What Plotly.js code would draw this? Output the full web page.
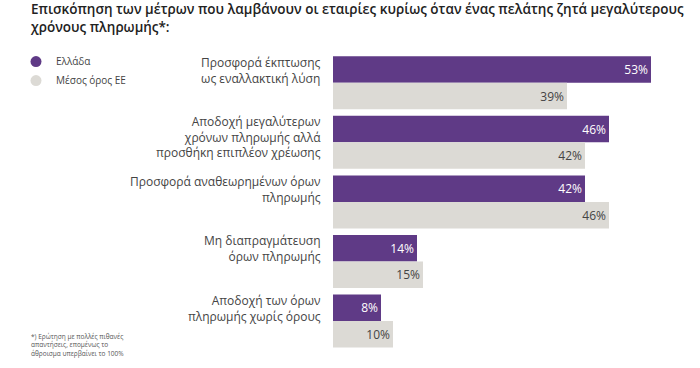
<!DOCTYPE html>
<html>
<head>
<meta charset="utf-8">
<script src="https://cdn.plot.ly/plotly-3.0.1.min.js"></script>
<style>html,body{margin:0;padding:0;background:#fff}#chart{width:700px;height:368px}</style>
</head>
<body>
<div id="chart"></div>
<script>
const categories = [
  "Προσφορά έκπτωσης<br>ως εναλλακτική λύση",
  "Αποδοχή μεγαλύτερων<br>χρόνων πληρωμής αλλά<br>προσθήκη επιπλέον χρέωσης",
  "Προσφορά αναθεωρημένων όρων<br>πληρωμής",
  "Μη διαπραγμάτευση<br>όρων πληρωμής",
  "Αποδοχή των όρων<br>πληρωμής χωρίς όρους"
];
const seriesNames = ["Ελλάδα", "Μέσος όρος ΕΕ"];
const greece = [53, 46, 42, 14, 8];
const euAverage = [39, 42, 46, 15, 10];
const titleText = "Επισκόπηση των μέτρων που λαμβάνουν οι εταιρίες κυρίως όταν ένας πελάτης ζητά μεγαλύτερους<br>χρόνους πληρωμής*:";
const footnote = "*) Ερώτηση με πολλές πιθανές<br>απαντήσεις, επομένως το<br>άθροισμα υπερβαίνει το 100%";

const PURPLE = "#5f3a86";
const GREY = "#dcdad5";
const FONT = "Open Sans, Lato, sans-serif";

const catIdx = categories.map((c, i) => i);

const traces = [
  {
    type: "bar", orientation: "h", name: seriesNames[0],
    y: catIdx, x: greece,
    marker: {color: PURPLE},
    text: greece.map(v => v + "%"),
    textposition: "inside", insidetextanchor: "end",
    textfont: {color: "#ffffff", size: 12, family: FONT},
    showlegend: false, hoverinfo: "skip"
  },
  {
    type: "bar", orientation: "h", name: seriesNames[1],
    y: catIdx, x: euAverage,
    marker: {color: GREY},
    text: euAverage.map(v => v + "%"),
    textposition: "inside", insidetextanchor: "end",
    textfont: {color: "#444444", size: 12, family: FONT},
    showlegend: false, hoverinfo: "skip"
  },
  {
    type: "scatter", mode: "markers", name: seriesNames[0],
    x: [null], y: [null], marker: {color: PURPLE, size: 11, symbol: "circle"}
  },
  {
    type: "scatter", mode: "markers", name: seriesNames[1],
    x: [null], y: [null], marker: {color: GREY, size: 11, symbol: "circle"}
  }
];

const annotations = categories.map((c, i) => ({
  text: c, x: 0, xref: "x", xanchor: "right", xshift: -10,
  y: i, yref: "y", yanchor: "top", yshift: 31,
  showarrow: false, align: "right",
  font: {family: FONT, size: 12, color: "#444444"}
}));
annotations.push({
  text: footnote, xref: "paper", x: (29 - 333) / 360, xanchor: "left",
  yref: "paper", y: (352.3 - 330) / 300, yanchor: "top",
  showarrow: false, align: "left",
  font: {family: FONT, size: 6.5, color: "#555555"}
});

const layout = {
  width: 700, height: 368,
  margin: {l: 333, r: 7, t: 52.5, b: 15.7},
  paper_bgcolor: "#ffffff", plot_bgcolor: "#ffffff",
  font: {family: FONT, color: "#333"},
  title: {
    text: titleText, xref: "container", x: 31 / 700, xanchor: "left",
    yref: "container", y: 1 - 14 / 368, yanchor: "top",
    font: {family: FONT, size: 13.5, weight: 600, color: "#222222"}
  },
  barmode: "group", bargap: 0.11, bargroupgap: 0,
  xaxis: {range: [0, 60], visible: false, fixedrange: true},
  yaxis: {autorange: "reversed", showticklabels: false, showgrid: false, zeroline: false, showline: false, ticks: ""},
  showlegend: true,
  legend: {
    x: (16 - 333) / 360, xanchor: "left", y: 1.02, yanchor: "top",
    font: {family: FONT, size: 10, color: "#444444"},
    itemwidth: 30, tracegroupgap: 0, bgcolor: "rgba(0,0,0,0)"
  },
  annotations: annotations
};

Plotly.newPlot("chart", traces, layout, {displayModeBar: false, staticPlot: true});
</script>
</body>
</html>
